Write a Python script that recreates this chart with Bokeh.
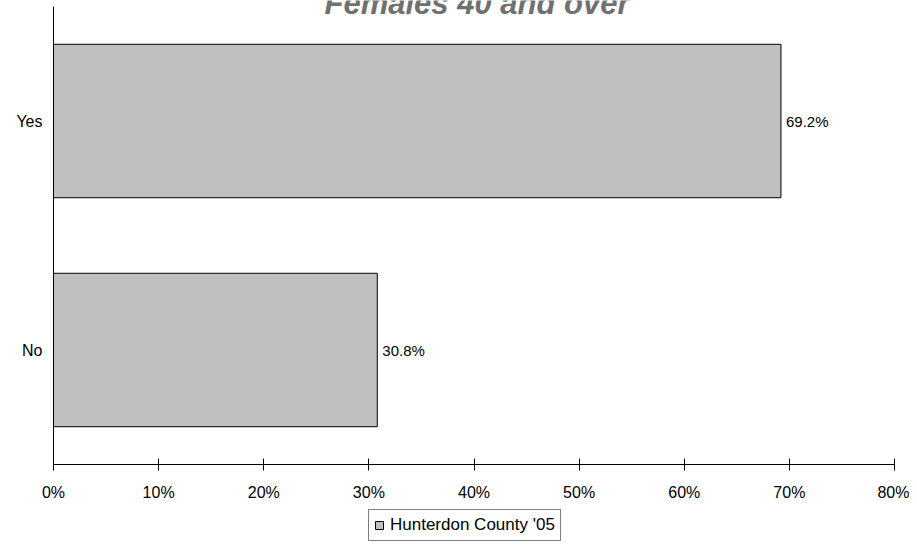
from bokeh.plotting import figure
from bokeh.models import (ColumnDataSource, Range1d, FixedTicker,
                          PrintfTickFormatter, Legend, LegendItem, Label)
from bokeh.embed import file_html
from bokeh.resources import INLINE

categories = ["No", "Yes"]
values = [30.8, 69.2]
value_labels = ["30.8%", "69.2%"]
series_name = "Hunterdon County '05"
title_text = "Females 40 and over"
x_ticks = [0, 10, 20, 30, 40, 50, 60, 70, 80]

FONT = "Liberation Sans"

# category slots: one unit per category, centred on i + 0.5
cat_pos = [i + 0.5 for i in range(len(categories))]
source = ColumnDataSource(dict(pos=cat_pos, val=values, lab=value_labels))

n = len(categories)
PX_PER_SLOT = 229.0
top_pad = 6 / PX_PER_SLOT          # 6px above the top slot
bottom_pad = 84 / PX_PER_SLOT      # room below the x axis for labels + legend
FRAME_H = 548

X_MAX = 80
PX_PER_PCT = 841 / X_MAX
left_pad = 53 / PX_PER_PCT         # room left of the y axis for category labels
right_pad = 15 / PX_PER_PCT        # room right of 80% for its tick label
FRAME_W = 53 + 841 + 15

p = figure(frame_width=FRAME_W, frame_height=FRAME_H, output_backend="svg",
           toolbar_location=None,
           y_range=Range1d(-bottom_pad, n + top_pad),
           x_range=Range1d(-left_pad, X_MAX + right_pad),
           min_border_left=0, min_border_right=0, min_border_top=0,
           min_border_bottom=0)
p.outline_line_color = None
p.xgrid.grid_line_color = None
p.ygrid.grid_line_color = None
p.background_fill_color = "white"

bars = p.hbar(y="pos", right="val", left=0, height=0.67, source=source,
              fill_color="#C0C0C0", line_color="black", line_width=1)

p.text(x="val", y="pos", text="lab", source=source, x_offset=5,
       text_baseline="middle", text_align="left", text_font_size="15px",
       text_font={"value": FONT}, text_color="black")

# x axis drawn at the bottom of the category slots
xa = p.xaxis[0]
xa.fixed_location = 0
xa.bounds = (0, X_MAX)
xa.ticker = FixedTicker(ticks=x_ticks)
xa.formatter = PrintfTickFormatter(format="%d%%")
xa.axis_label = None
xa.axis_line_color = "black"
xa.major_tick_line_color = "black"
xa.major_tick_in = 6
xa.major_tick_out = 6
xa.minor_tick_line_color = None
xa.major_label_text_font = FONT
xa.major_label_text_font_size = "16px"
xa.major_label_text_color = "black"
xa.major_label_standoff = 13

# y axis drawn at 0%
ya = p.yaxis[0]
ya.fixed_location = 0
ya.bounds = (0, n)
ya.ticker = FixedTicker(ticks=cat_pos)
ya.major_label_overrides = {pos: name for pos, name in zip(cat_pos, categories)}
ya.axis_label = None
ya.axis_line_color = "black"
ya.major_tick_line_color = None
ya.minor_tick_line_color = None
ya.major_label_text_font = FONT
ya.major_label_text_font_size = "16px"
ya.major_label_text_color = "black"
ya.major_label_standoff = 5

# title (partly cut off at top, as in the reference)
title = Label(x=X_MAX / 2, y=n + top_pad, x_offset=3, y_offset=-3,
              text=title_text, text_align="center", text_baseline="alphabetic",
              text_font=FONT, text_font_size="31px",
              text_font_style="bold italic", text_color="#707070")
p.add_layout(title)

legend = Legend(items=[LegendItem(label=series_name, renderers=[bars])],
                location=(368, 7), orientation="horizontal",
                label_text_font=FONT, label_text_font_size="17px",
                label_text_color="black", glyph_width=10, glyph_height=10,
                label_height=20, label_standoff=6, padding=5, spacing=0,
                border_line_color="black", border_line_width=1,
                background_fill_color="white", margin=0)
p.add_layout(legend)

open("out.html", "w").write(file_html(p, INLINE))
